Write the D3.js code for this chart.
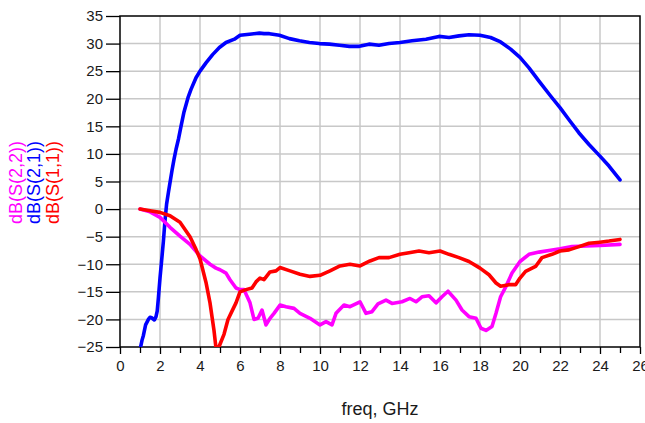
<!DOCTYPE html>
<html lang="en">
<head>
<meta charset="UTF-8">
<title>S-parameters</title>
<script src="https://d3js.org/d3.v7.min.js"></script>
<style>
  body { margin: 0; background: #fff; }
  text { font-family: Arial, "Liberation Sans", sans-serif; fill: #1a1a1a; }
  .grid line { stroke: #c8c8c8; stroke-width: 1.5; }
  .curve { fill: none; stroke-width: 3.6; stroke-linejoin: round; stroke-linecap: round; }
</style>
</head>
<body>
<script>
// dB(S(2,1)) : [freq GHz, dB]
const s21 = [
  [1.03,-25],[1.1,-23.8],[1.17,-22.9],[1.28,-21],[1.42,-20],[1.5,-19.6],[1.58,-19.7],
  [1.72,-20.1],[1.8,-19.5],[1.86,-18.5],[1.92,-16.1],[2.0,-12.5],[2.08,-9.4],[2.17,-5.8],
  [2.25,-2.1],[2.33,0.9],[2.42,3.0],[2.5,4.8],[2.6,7],[2.7,9],[2.8,10.8],[2.93,12.8],
  [3.05,15],[3.2,17.6],[3.4,20.2],[3.55,21.7],[3.8,23.8],[4.0,25],[4.3,26.5],[4.63,28],
  [4.97,29.3],[5.3,30.2],[5.72,30.8],[6.0,31.5],[6.47,31.7],[6.97,31.9],[7.2,31.8],
  [7.47,31.8],[7.97,31.5],[8.47,30.9],[8.97,30.5],[9.47,30.2],[9.97,30],[10.47,29.9],
  [10.97,29.7],[11.47,29.5],[11.97,29.5],[12.45,29.9],[12.95,29.7],[13.45,30],[14.0,30.2],
  [14.6,30.5],[15.3,30.8],[15.95,31.3],[16.45,31.1],[16.95,31.4],[17.45,31.6],[18.0,31.5],
  [18.53,31.1],[19.03,30.3],[19.53,29],[20,27.5],[20.45,25.6],[20.95,23.2],[21.53,20.5],
  [22,18.4],[22.45,16.2],[22.95,13.8],[23.45,11.7],[24,9.6],[24.45,7.8],[25,5.3]
];

// dB(S(1,1))
const s11 = [
  [1,0],[1.5,-0.3],[2,-0.6],[2.5,-1.2],[3,-2.4],[3.5,-5],[3.8,-7.3],[4,-9],[4.3,-13.3],
  [4.5,-17],[4.7,-22],[4.8,-25.2],[4.9,-25.4],[5.0,-24.5],[5.2,-22.7],[5.4,-20],[5.6,-18.5],
  [5.8,-17],[6.0,-15],[6.3,-14.6],[6.6,-14.3],[6.8,-13.2],[7.0,-12.5],[7.2,-12.8],[7.5,-11.4],
  [7.8,-11.2],[8.0,-10.6],[8.5,-11.2],[9,-11.8],[9.5,-12.2],[10,-12],[10.5,-11.2],[11,-10.3],
  [11.5,-10],[12,-10.3],[12.5,-9.4],[12.95,-8.8],[13.45,-8.8],[14,-8.2],[14.45,-7.9],
  [14.95,-7.6],[15.45,-7.9],[16,-7.6],[16.45,-8.2],[16.95,-8.8],[17.45,-9.5],[18,-10.7],
  [18.45,-11.9],[18.8,-13.4],[19.03,-14],[19.45,-13.7],[19.78,-13.7],[20,-12.5],[20.28,-11.3],
  [20.78,-10.4],[21.1,-8.8],[21.6,-8.2],[22,-7.6],[22.45,-7.4],[22.95,-6.8],[23.45,-6.2],
  [24,-6.0],[24.45,-5.8],[25,-5.5]
];

// dB(S(2,2))
const s22 = [
  [1,0],[1.5,-0.5],[2,-1.5],[2.5,-3.3],[3,-4.9],[3.5,-6.4],[4,-8.5],[4.5,-10],[4.8,-10.7],
  [5.0,-11],[5.3,-11.6],[5.5,-12.8],[5.8,-14.3],[6.0,-14.6],[6.2,-14.6],[6.5,-17],[6.7,-20],
  [6.9,-19.8],[7.1,-18.3],[7.3,-21],[7.5,-19.8],[7.7,-18.9],[8.0,-17.4],[8.3,-17.7],[8.7,-18],
  [9,-18.9],[9.5,-19.8],[10,-21],[10.3,-20.4],[10.6,-21],[10.8,-18.9],[11.2,-17.4],[11.5,-17.7],
  [12,-16.8],[12.3,-18.9],[12.6,-18.6],[12.9,-17.2],[13.3,-16.5],[13.6,-17.1],[14.1,-16.8],
  [14.5,-16.2],[14.8,-16.8],[15.1,-15.9],[15.45,-15.7],[15.8,-17],[16.1,-15.9],[16.4,-14.9],
  [16.8,-16.5],[17.1,-18.3],[17.45,-19.5],[17.8,-19.8],[18.05,-21.6],[18.3,-22],[18.6,-21.3],
  [18.8,-18.9],[19.03,-15.9],[19.3,-14],[19.6,-11.6],[20,-9.5],[20.45,-8.2],[20.95,-7.8],
  [21.45,-7.5],[22,-7.2],[22.6,-6.8],[23.3,-6.7],[24,-6.6],[25,-6.4]
];

const xTicks = [0, 2, 4, 6, 8, 10, 12, 14, 16, 18, 20, 22, 24, 26];
const xMinor = [1, 3, 5, 7, 9, 11, 13, 15, 17, 19, 21, 23, 25];
const yTicks = [35, 30, 25, 20, 15, 10, 5, 0, -5, -10, -15, -20, -25];
const legend = [
  { name: "dB(S(2,2))", color: "#ff00ff" },
  { name: "dB(S(2,1))", color: "#0000ff" },
  { name: "dB(S(1,1))", color: "#ff0000" }
];

const width = 645, height = 423;
const margin = { top: 16, right: 5, bottom: 76, left: 120 };
const w = width - margin.left - margin.right;
const h = height - margin.top - margin.bottom;

const x = d3.scaleLinear().domain([0, 26]).range([0, w]);
const y = d3.scaleLinear().domain([-25, 35]).range([h, 0]);

const svg = d3.select("body").append("svg")
  .attr("width", width)
  .attr("height", height);

const g = svg.append("g").attr("transform", `translate(${margin.left},${margin.top})`);

// grid
const grid = g.append("g").attr("class", "grid");
grid.selectAll(".gx").data(xTicks.slice(1, -1)).enter().append("line")
  .attr("x1", d => x(d)).attr("x2", d => x(d))
  .attr("y1", 0).attr("y2", h);
grid.selectAll(".gy").data(yTicks.slice(1, -1)).enter().append("line")
  .attr("x1", 0).attr("x2", w)
  .attr("y1", d => y(d)).attr("y2", d => y(d));

// axes
const xAxis = g.append("g").attr("transform", `translate(0,${h})`)
  .call(d3.axisBottom(x).tickValues(xTicks).tickSize(7).tickPadding(6).tickFormat(d3.format("d")));
g.append("g").attr("transform", `translate(0,${h})`)
  .call(d3.axisBottom(x).tickValues(xMinor).tickSize(6).tickFormat(""))
  .select(".domain").remove();
const yAxis = g.append("g")
  .call(d3.axisLeft(y).tickValues(yTicks).tickSize(14).tickPadding(3).tickFormat(d3.format("d")));

[xAxis, yAxis].forEach(a => {
  a.selectAll("text").style("font-size", "15px").attr("fill", "#1a1a1a");
  a.select(".domain").remove();
});
g.selectAll(".tick line").attr("stroke", "#000").attr("stroke-width", 1.3);

// plot frame
g.append("rect")
  .attr("width", w).attr("height", h)
  .attr("fill", "none").attr("stroke", "#000").attr("stroke-width", 1.5);

// curves
g.append("clipPath").attr("id", "clip")
  .append("rect").attr("width", w).attr("height", h);

const line = d3.line().x(d => x(d[0])).y(d => y(d[1]));
const plot = g.append("g").attr("clip-path", "url(#clip)");
[[s21, "#0000ff"], [s22, "#ff00ff"], [s11, "#ff0000"]].forEach(([data, color]) => {
  plot.append("path").datum(data)
    .attr("class", "curve")
    .attr("stroke", color)
    .attr("d", line);
});

// x label
svg.append("text")
  .attr("x", margin.left + x(13))
  .attr("y", 415)
  .attr("text-anchor", "middle")
  .style("font-size", "18px")
  .text("freq, GHz");

// rotated legend on the left
svg.selectAll(".legend").data(legend).enter().append("text")
  .attr("class", "legend")
  .attr("transform", (d, i) => `translate(${21.5 + i * 18.5},224) rotate(-90)`)
  .style("font-size", "18px")
  .style("fill", d => d.color)
  .text(d => d.name);
</script>
</body>
</html>
